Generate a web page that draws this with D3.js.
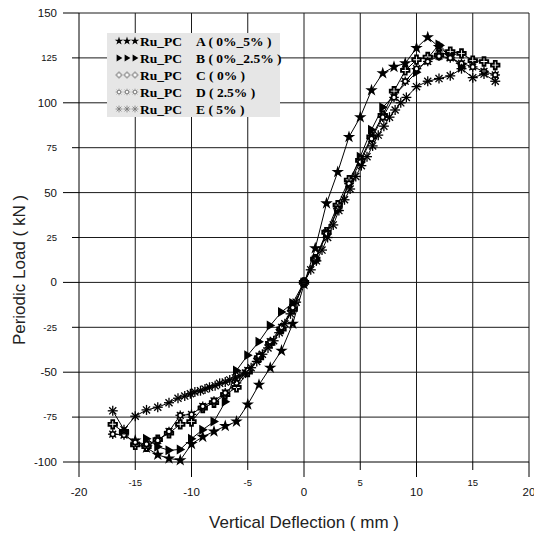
<!DOCTYPE html>
<html>
<head>
<meta charset="utf-8">
<script src="https://cdn.jsdelivr.net/npm/d3@7"></script>
<style>
  body { margin: 0; background: #fff; }
  svg { display: block; }
</style>
</head>
<body>
<div id="chart"></div>
<script>
// Ru_PC A ( 0%_5% ) - stars
const deflA = [-15, -14, -13, -12, -11, -10, -9, -8, -7, -6, -5, -4, -3, -2, -1, 0, 1, 2, 3, 4, 5, 6, 7, 8, 9, 10, 11, 12, 13, 14];
const loadA = [-88, -92, -96, -98, -99, -90, -86, -83, -80, -77.5, -68, -57, -47.5, -38, -23, -1, 19, 44, 61.5, 81, 92, 107, 116.5, 120, 122, 130.5, 136.5, 131, 126, 121];

// Ru_PC B ( 0%_2.5% ) - triangles
const deflB = [-14, -13, -12, -11, -10, -9, -8, -7, -6, -5, -4, -3, -2, -1, 0, 1, 2, 3, 4, 5, 6, 7, 10, 12, 13, 14];
const loadB = [-87, -91.5, -93.5, -93, -87, -82, -77.5, -66.5, -49, -40.5, -33, -24, -16.5, -11.5, 0, 12, 27, 40, 55, 70, 85, 97.5, 117, 132.5, 126, 120];

// Ru_PC C ( 0% ) - crosses
const deflC = [-17, -16, -15, -14, -13, -12, -11, -10, -9, -8, -7, -6, -5, -4, -3, -2, -1, 0, 1, 2, 3, 4, 5, 6, 7, 8, 9, 10, 11, 12, 13, 14, 15, 16, 17];
const loadC = [-79, -83.5, -90.5, -91.5, -87.5, -84, -79, -77.5, -70, -67, -62.5, -58.5, -50, -42, -34, -26, -15, 0, 13, 28, 43, 57, 68, 81, 93, 106.5, 118, 124, 125.5, 126.5, 128.5, 127.5, 123.5, 123, 121];

// Ru_PC D ( 2.5% ) - suns
const deflD = [-17, -16, -15, -14, -13, -12, -11, -10, -9, -8, -7, -6, -5, -4, -3, -2, -1, 0, 1, 2, 3, 4, 5, 6, 7, 8, 9, 10, 11, 12, 13, 14, 15, 16, 17];
const loadD = [-84.5, -85, -89, -90, -88, -83, -74, -73.5, -69, -66, -61.5, -56, -49, -41, -33, -25, -14, 0, 13, 27, 41, 55, 67, 80, 92, 103, 112, 119, 123, 126, 125, 122, 120, 117.5, 115.5];

// Ru_PC E ( 5% ) - asterisks
const deflE = [-17, -16, -15, -14, -13, -12, -11.2, -10.6, -10.1, -9.7, -9.2, -8.8, -8.4, -7.9, -7.5, -7, -6.6, -6.1, -5.7, -5.2, -4.7, -4.2, -3.7, -3.2, -2.7, -2.2, -1.7, -1.2, -0.7, 0, 0.6, 1.1, 1.6, 2.1, 2.6, 3.1, 3.6, 4.1, 4.6, 5.1, 5.6, 6.1, 6.6, 7.1, 7.6, 8.1, 8.6, 9.1, 10, 11, 12, 13, 14, 15, 16, 17];
const loadE = [-71.5, -82, -74.5, -71, -69.5, -67, -64.5, -63.3, -62, -61, -60.3, -59.4, -58.4, -57.5, -56.2, -55.5, -54.3, -53.2, -52, -50.5, -47.5, -44, -40, -36.5, -32.5, -28, -23, -17.5, -11, 0, 7, 12, 18, 25, 32, 40, 46, 52, 59, 65, 70, 76, 82, 87, 92, 96, 100, 103, 109, 112, 113.5, 115, 119, 114, 116, 112];

const labels = ['A ( 0%_5% )', 'B ( 0%_2.5% )', 'C ( 0% )', 'D ( 2.5% )', 'E ( 5% )'];
const markers = ['star', 'tri', 'cross', 'sun', 'aster'];
const xTicks = [-20, -15, -10, -5, 0, 5, 10, 15, 20];
const yTicks = [-100, -75, -50, -25, 0, 25, 50, 75, 100, 125, 150];

const series = [
  { x: deflA, y: loadA },
  { x: deflB, y: loadB },
  { x: deflC, y: loadC },
  { x: deflD, y: loadD },
  { x: deflE, y: loadE }
].map((s, i) => ({
  label: labels[i],
  marker: markers[i],
  points: s.x.map((v, j) => [v, s.y[j]])
}));

const W = 534, H = 533;
const plot = { left: 79, right: 529, top: 13, bottom: 462 };

const svg = d3.select('#chart').append('svg')
  .attr('width', W)
  .attr('height', H);

const x = d3.scaleLinear().domain([-20, 20]).range([plot.left, plot.right]);
const y = d3.scaleLinear().domain([-100, 150]).range([plot.bottom, plot.top]);

// Grid
const grid = svg.append('g').attr('stroke', '#1a1a1a').attr('stroke-width', 1);
grid.selectAll('.vgrid')
  .data(xTicks.slice(1))
  .join('line')
    .attr('x1', d => x(d)).attr('x2', d => x(d))
    .attr('y1', plot.top).attr('y2', plot.bottom);
grid.selectAll('.hgrid')
  .data(yTicks.slice(1))
  .join('line')
    .attr('x1', plot.left).attr('x2', plot.right)
    .attr('y1', d => y(d)).attr('y2', d => y(d));

// Axes
const axes = svg.append('g').attr('stroke', '#000').attr('stroke-width', 1);
axes.append('line')
  .attr('x1', plot.left).attr('x2', plot.left)
  .attr('y1', plot.top).attr('y2', plot.bottom);
axes.append('line')
  .attr('x1', plot.left).attr('x2', plot.right)
  .attr('y1', plot.bottom).attr('y2', plot.bottom);

const yMajor = d => d % 50 === 0;
const xMajor = d => d % 10 === 0;

axes.selectAll('.ytick')
  .data(yTicks)
  .join('line')
    .attr('x1', d => plot.left - (yMajor(d) ? 16 : 7))
    .attr('x2', plot.left)
    .attr('y1', d => y(d)).attr('y2', d => y(d));

axes.selectAll('.xtick')
  .data(xTicks)
  .join('line')
    .attr('x1', d => x(d)).attr('x2', d => x(d))
    .attr('y1', plot.bottom)
    .attr('y2', d => plot.bottom + (xMajor(d) ? 15 : 8));

svg.append('g')
  .attr('font-family', 'Liberation Sans, Arial, sans-serif')
  .attr('fill', '#111')
  .selectAll('text')
  .data(yTicks)
  .join('text')
    .attr('x', 57)
    .attr('y', d => y(d))
    .attr('dy', '0.35em')
    .attr('text-anchor', 'end')
    .attr('font-size', d => yMajor(d) ? 11.5 : 9.5)
    .text(d => d);

svg.append('g')
  .attr('font-family', 'Liberation Sans, Arial, sans-serif')
  .attr('fill', '#111')
  .selectAll('text')
  .data(xTicks)
  .join('text')
    .attr('x', d => x(d))
    .attr('y', d => xMajor(d) ? 492 : 483)
    .attr('dy', '0.35em')
    .attr('text-anchor', 'middle')
    .attr('font-size', d => xMajor(d) ? 11.5 : 9.5)
    .text(d => d);

// Axis titles
svg.append('text')
  .attr('x', (plot.left + plot.right) / 2)
  .attr('y', 528)
  .attr('text-anchor', 'middle')
  .attr('font-family', 'Liberation Sans, Arial, sans-serif')
  .attr('font-size', 17)
  .attr('fill', '#222')
  .text('Vertical Deflection ( mm )');

svg.append('text')
  .attr('transform', 'translate(25, 270) rotate(-90)')
  .attr('text-anchor', 'middle')
  .attr('font-family', 'Liberation Sans, Arial, sans-serif')
  .attr('font-size', 17)
  .attr('fill', '#222')
  .text('Periodic Load ( kN )');

// Marker glyphs
function drawMarker(g, type, s, stroke) {
  const sw = stroke ? 0.8 : 1.3;
  const col = stroke || '#000';
  if (type === 'star') {
    g.append('path')
      .attr('d', d3.symbol(d3.symbolStar, 48 * s * s)())
      .attr('fill', '#000');
  } else if (type === 'tri') {
    g.append('path')
      .attr('d', `M${-3.5 * s},${-5 * s}L${5 * s},0L${-3.5 * s},${5 * s}Z`)
      .attr('fill', '#000');
  } else if (type === 'cross') {
    const a = 1.4 * s, b = 4.2 * s;
    g.append('path')
      .attr('d', `M${-a},${-b}H${a}V${-a}H${b}V${a}H${a}V${b}H${-a}V${a}H${-b}V${-a}H${-a}Z`)
      .attr('fill', '#fff')
      .attr('stroke', col)
      .attr('stroke-width', stroke ? 0.8 : 1.9);
  } else if (type === 'sun') {
    d3.range(8).forEach(k => {
      const t = k * Math.PI / 4;
      g.append('line')
        .attr('x1', Math.cos(t) * 2.4 * s).attr('y1', Math.sin(t) * 2.4 * s)
        .attr('x2', Math.cos(t) * 4.8 * s).attr('y2', Math.sin(t) * 4.8 * s)
        .attr('stroke', col).attr('stroke-width', sw);
    });
    g.append('circle')
      .attr('r', 2.4 * s)
      .attr('fill', '#fff')
      .attr('stroke', col)
      .attr('stroke-width', stroke ? 0.8 : 1.6);
  } else if (type === 'aster') {
    d3.range(4).forEach(k => {
      const t = k * Math.PI / 4;
      g.append('line')
        .attr('x1', -Math.cos(t) * 5 * s).attr('y1', -Math.sin(t) * 5 * s)
        .attr('x2', Math.cos(t) * 5 * s).attr('y2', Math.sin(t) * 5 * s)
        .attr('stroke', col).attr('stroke-width', sw);
    });
  }
}

// Series lines and markers
const line = d3.line().x(d => x(d[0])).y(d => y(d[1]));
const seriesG = svg.append('g');

series.forEach(s => {
  seriesG.append('path')
    .attr('d', line(s.points))
    .attr('fill', 'none')
    .attr('stroke', '#000')
    .attr('stroke-width', 1);
});

series.forEach(s => {
  seriesG.append('g')
    .selectAll('g')
    .data(s.points)
    .join('g')
      .attr('transform', d => `translate(${x(d[0])},${y(d[1])})`)
      .each(function () { drawMarker(d3.select(this), s.marker, 1); });
});

// Legend
const legend = svg.append('g');
legend.append('rect')
  .attr('x', 107).attr('y', 33)
  .attr('width', 173).attr('height', 84)
  .attr('fill', '#e6e6e6');

series.forEach((s, i) => {
  const cy = 41 + i * 17;
  [119, 127, 135].forEach(mx => {
    const g = legend.append('g').attr('transform', `translate(${mx},${cy})`);
    drawMarker(g, s.marker, 0.68, i >= 2 ? '#777' : null);
  });
  legend.append('text')
    .attr('x', 140).attr('y', cy)
    .attr('dy', '0.35em')
    .attr('font-family', 'Liberation Serif, Times New Roman, serif')
    .attr('font-weight', 'bold')
    .attr('font-size', 13.5)
    .text('Ru_PC');
  legend.append('text')
    .attr('x', 196).attr('y', cy)
    .attr('dy', '0.35em')
    .attr('font-family', 'Liberation Serif, Times New Roman, serif')
    .attr('font-weight', 'bold')
    .attr('font-size', 13.5)
    .text(s.label);
});
</script>
</body>
</html>
